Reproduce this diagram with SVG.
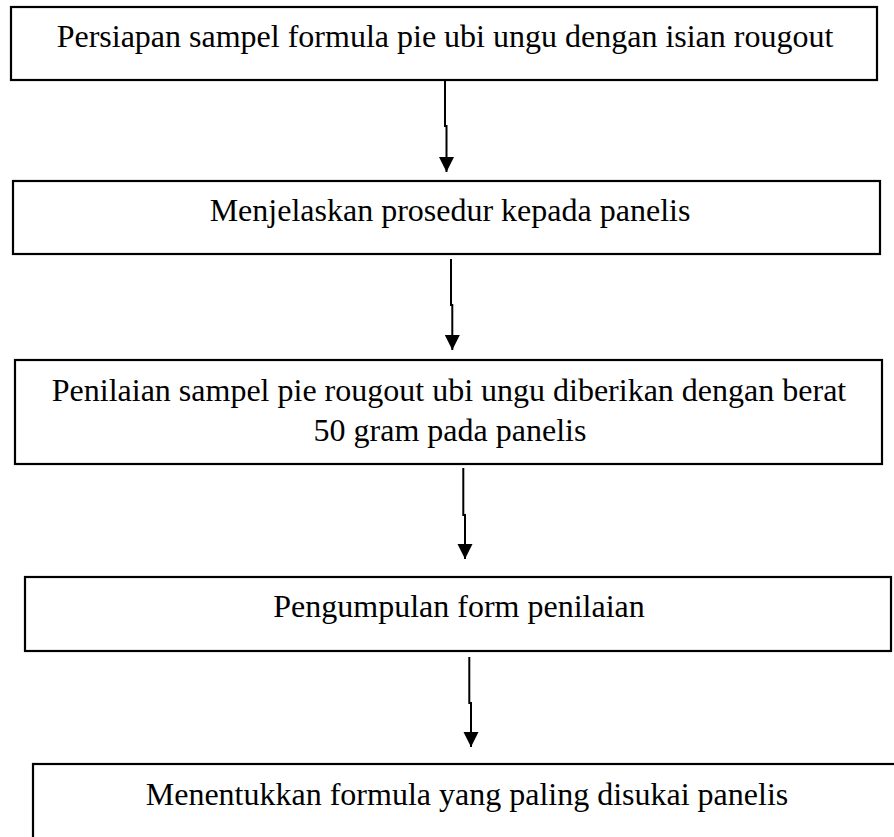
<svg xmlns="http://www.w3.org/2000/svg" width="894" height="837" viewBox="0 0 894 837">
<style>
.box{fill:#fff;stroke:#000;stroke-width:2.2}
.lbl{font-family:"Liberation Serif","Times New Roman",serif;font-size:32px;fill:#000;text-anchor:middle}
.con{fill:none;stroke:#000;stroke-width:2}
</style>
<defs>
<marker id="ah" markerUnits="userSpaceOnUse" markerWidth="15" markerHeight="16" refX="15" refY="7.5" orient="auto">
<path d="M0,0 L15,7.5 L0,15 z" fill="#000"/>
</marker>
</defs>
<rect width="894" height="837" fill="#fff"/>
<g id="n1">
<rect class="box" x="11" y="7" width="866" height="73"/>
<text class="lbl" x="445" y="47">Persiapan sampel formula pie ubi ungu dengan isian rougout</text>
</g>
<g id="n2">
<rect class="box" x="13" y="181" width="867" height="73"/>
<text class="lbl" x="450" y="221">Menjelaskan prosedur kepada panelis</text>
</g>
<g id="n3">
<rect class="box" x="15" y="360" width="867" height="104"/>
<text class="lbl" x="449" y="401">Penilaian sampel pie rougout ubi ungu diberikan dengan berat</text>
<text class="lbl" x="450" y="441">50 gram pada panelis</text>
</g>
<g id="n4">
<rect class="box" x="25" y="577" width="866" height="74"/>
<text class="lbl" x="459" y="617">Pengumpulan form penilaian</text>
</g>
<g id="n5">
<rect class="box" x="33" y="764" width="880" height="100"/>
<text class="lbl" x="467" y="805">Menentukkan formula yang paling disukai panelis</text>
</g>
<g id="connectors">
<path class="con" d="M445,81 V126 H446.5 V172" marker-end="url(#ah)"/>
<path class="con" d="M451,259 V305 H452.3 V350" marker-end="url(#ah)"/>
<path class="con" d="M463.3,468 V515 H465 V559" marker-end="url(#ah)"/>
<path class="con" d="M469.3,657 V703 H471 V747" marker-end="url(#ah)"/>
</g>
</svg>
